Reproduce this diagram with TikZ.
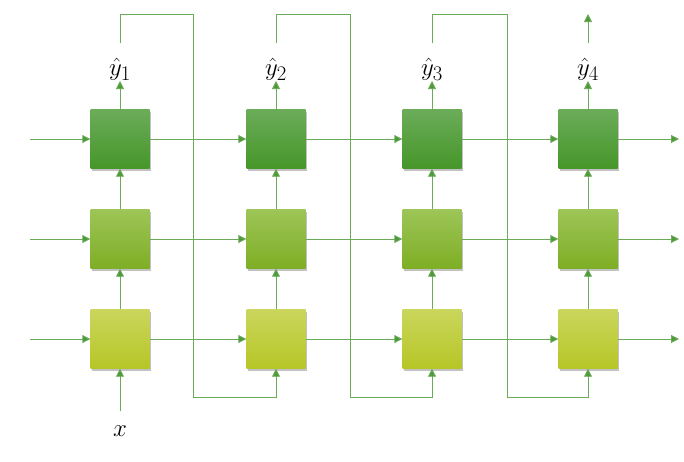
\documentclass[tikz,border=0pt]{standalone}
\usepackage{amsmath}
\usetikzlibrary{arrows.meta,shadows}
\definecolor{ln}{HTML}{6AAA58}
\definecolor{tipc}{HTML}{4E9A3A}
\definecolor{gtA}{HTML}{6BAC59}\definecolor{gtB}{HTML}{55A337}\definecolor{gtC}{HTML}{469629}
\definecolor{gmA}{HTML}{9DC557}\definecolor{gmB}{HTML}{8CBD31}\definecolor{gmC}{HTML}{7EAE25}
\definecolor{gbA}{HTML}{CAD65C}\definecolor{gbB}{HTML}{C6D935}\definecolor{gbC}{HTML}{B6C626}
\tikzset{
  cell/.style={minimum size=59pt,inner sep=0pt,
    drop shadow={shadow xshift=1.5pt,shadow yshift=-2.5pt,opacity=0.4,fill=black!60}},
  topc/.style={cell,top color=gtA,middle color=gtB,bottom color=gtC},
  midc/.style={cell,top color=gmA,middle color=gmB,bottom color=gmC},
  botc/.style={cell,top color=gbA,middle color=gbB,bottom color=gbC},
  conn/.style={draw=ln,line width=0.9pt},
  arr/.style={conn,-{Triangle[length=8pt,width=8pt,fill=tipc]}},
  lbl/.style={inner sep=0.5pt,font=\Huge}
}
\begin{document}
\begin{tikzpicture}[x=1pt,y=-1pt]
\useasboundingbox (0,0) rectangle (684,461);
% boxes
\foreach \i/\x in {1/120,2/276,3/432,4/588}{
  \node[topc] (t\i) at (\x,139) {};
  \node[midc] (m\i) at (\x,239) {};
  \node[botc] (b\i) at (\x,339) {};
}
% left inputs
\coordinate (it) at (30,139);
\coordinate (im) at (30,239);
\coordinate (ib) at (30,339);
\draw[arr] (it) -- (t1.west);
\draw[arr] (im) -- (m1.west);
\draw[arr] (ib) -- (b1.west);
% horizontal connections
\foreach \a/\b in {1/2,2/3,3/4}{
  \draw[arr] (t\a.east) -- (t\b.west);
  \draw[arr] (m\a.east) -- (m\b.west);
  \draw[arr] (b\a.east) -- (b\b.west);
}
% right outputs
\coordinate (ot) at (679,139);
\coordinate (om) at (679,239);
\coordinate (ob) at (679,339);
\draw[arr] (t4.east) -- (ot);
\draw[arr] (m4.east) -- (om);
\draw[arr] (b4.east) -- (ob);
% vertical connections
\foreach \i in {1,2,3,4}{
  \draw[arr] (b\i.north) -- (m\i.south);
  \draw[arr] (m\i.north) -- (t\i.south);
}
% output labels
\foreach \i/\x in {1/120,2/276,3/432,4/588}{
  \node[lbl,anchor=south] (y\i) at (\x,81) {$\hat{y}_{\i}$};
  \draw[arr] (t\i.north) -- (y\i.south);
  \coordinate (f\i) at (\x,43);
}
% feedback loops
\draw[arr] (f1) -- (120,14) -- (193,14) -- (193,397) -- (276,397) -- (b2.south);
\draw[arr] (f2) -- (276,14) -- (350,14) -- (350,397) -- (432,397) -- (b3.south);
\draw[arr] (f3) -- (432,14) -- (507,14) -- (507,397) -- (588,397) -- (b4.south);
\coordinate (o4) at (588,14);
\draw[arr] (f4) -- (o4);
% input x
\node[lbl] (x) at (120,431) {$x$};
\coordinate (xs) at (120,411);
\draw[arr] (xs) -- (b1.south);
\end{tikzpicture}
\end{document}
